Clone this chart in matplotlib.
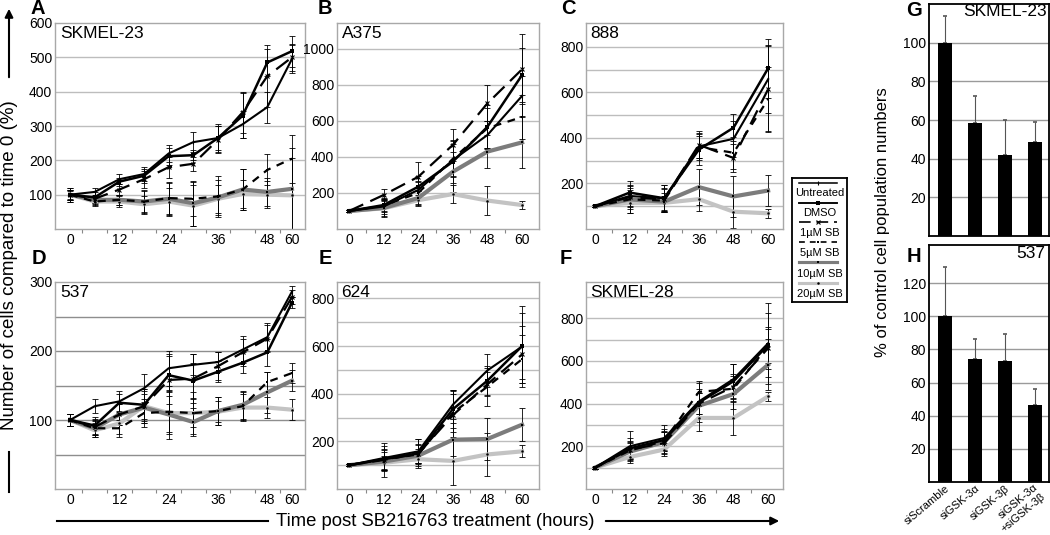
import numpy as np
import matplotlib
matplotlib.use('Agg')
import matplotlib.pyplot as plt
import matplotlib.transforms as mtrans

plt.rcParams['font.family'] = ['Liberation Sans', 'DejaVu Sans']

W, H = 1050, 535

# time points (hours) - A and D have 6 h steps, the rest 12 h
times_fine = [0, 6, 12, 18, 24, 30, 36, 42, 48, 60]
times_coarse = [0, 12, 24, 36, 48, 60]
series_names = ['Untreated', 'DMSO', '1µM SB', '5µM SB', '10µM SB', '20µM SB']

# A - SKMEL-23 (order: untreated, DMSO, 1, 5, 10, 20 µM)
skmel23_mean = [
    [100, 108, 145, 160, 220, 253, 265, 305, 355, 495],
    [100, 92, 138, 155, 212, 215, 265, 330, 485, 518],
    [100, 88, 115, 145, 180, 190, 260, 340, 445, 500],
    [100, 80, 85, 80, 90, 88, 95, 115, 172, 205],
    [100, 85, 85, 80, 88, 75, 92, 115, 108, 117],
    [100, 80, 80, 72, 80, 68, 88, 102, 100, 98],
]
skmel23_err = [
    [15, 12, 15, 20, 25, 30, 40, 40, 45, 40],
    [12, 15, 12, 20, 25, 15, 35, 65, 40, 45],
    [15, 12, 15, 25, 30, 20, 40, 60, 90, 40],
    [20, 12, 15, 30, 45, 50, 60, 60, 45, 70],
    [20, 12, 15, 35, 50, 65, 50, 60, 40, 120],
    [15, 10, 15, 25, 40, 60, 40, 40, 40, 110],
]

# B - A375
a375_mean = [
    [100, 125, 217, 383, 522, 739],
    [100, 133, 235, 374, 568, 855],
    [100, 189, 290, 467, 698, 887],
    [100, 130, 200, 390, 560, 622],
    [100, 117, 172, 318, 430, 481],
    [100, 115, 160, 194, 158, 133],
]
a375_err = [
    [5, 40, 50, 90, 80, 110],
    [5, 40, 60, 120, 120, 150],
    [5, 35, 80, 90, 100, 195],
    [5, 30, 60, 100, 110, 120],
    [5, 45, 40, 110, 90, 140],
    [5, 50, 30, 50, 80, 20],
]

# C - 888
m888_mean = [
    [100, 145, 135, 363, 396, 658],
    [100, 160, 135, 349, 445, 706],
    [100, 140, 130, 370, 312, 614],
    [100, 130, 125, 360, 335, 570],
    [100, 130, 120, 184, 143, 169],
    [100, 115, 115, 131, 76, 69],
]
m888_err = [
    [5, 50, 60, 60, 80, 150],
    [5, 50, 60, 70, 60, 130],
    [5, 40, 50, 60, 60, 190],
    [5, 60, 50, 50, 70, 140],
    [5, 40, 40, 80, 90, 70],
    [5, 45, 30, 50, 70, 20],
]

# D - 537
m537_mean = [
    [100, 120, 127, 146, 175, 180, 184, 202, 220, 286],
    [100, 92, 125, 122, 165, 157, 170, 183, 198, 270],
    [100, 90, 108, 120, 158, 160, 178, 198, 218, 278],
    [100, 88, 88, 110, 112, 110, 113, 120, 155, 168],
    [100, 88, 108, 118, 108, 97, 113, 122, 140, 157],
    [100, 85, 95, 120, 110, 110, 112, 118, 118, 115],
]
m537_err = [
    [8, 10, 15, 20, 25, 15, 15, 20, 20, 8],
    [8, 12, 12, 20, 30, 25, 15, 15, 20, 8],
    [8, 12, 15, 25, 35, 35, 20, 20, 20, 10],
    [8, 10, 12, 20, 30, 30, 20, 20, 15, 15],
    [8, 12, 15, 20, 35, 20, 20, 20, 30, 15],
    [8, 10, 15, 25, 30, 20, 15, 20, 15, 15],
]

# E - 624
m624_mean = [
    [100, 130, 158, 354, 498, 598],
    [100, 125, 150, 335, 455, 600],
    [100, 122, 148, 310, 440, 565],
    [100, 125, 145, 320, 430, 545],
    [100, 115, 140, 207, 210, 270],
    [100, 110, 125, 118, 145, 158],
]
m624_err = [
    [5, 50, 50, 60, 70, 170],
    [5, 45, 60, 80, 60, 140],
    [5, 70, 40, 100, 50, 120],
    [5, 40, 40, 80, 80, 100],
    [5, 40, 30, 70, 90, 70],
    [5, 30, 30, 100, 90, 25],
]

# F - SKMEL-28
skmel28_mean = [
    [100, 200, 239, 410, 515, 683],
    [100, 190, 230, 405, 505, 675],
    [100, 185, 215, 400, 480, 660],
    [100, 180, 225, 455, 470, 670],
    [100, 175, 220, 390, 445, 582],
    [100, 150, 185, 333, 333, 434],
]
skmel28_err = [
    [5, 70, 60, 60, 70, 190],
    [5, 50, 50, 90, 80, 150],
    [5, 40, 50, 50, 60, 100],
    [5, 40, 40, 50, 60, 80],
    [5, 40, 50, 60, 70, 120],
    [5, 30, 30, 60, 80, 20],
]

# G / H - siRNA knockdown
bar_labels = ['siScramble', 'siGSK-3α', 'siGSK-3β', 'siGSK-3α\n+siGSK-3β']
skmel23_si = [100, 58.5, 42, 48.5]
skmel23_si_err = [14, 14, 18, 10.5]
m537_si = [100, 74, 73, 46.5]
m537_si_err = [30, 12, 16, 9.5]

STYLES = [
    dict(color='black', ls='-', lw=1.5, marker='|', ms=3, mew=0.8),
    dict(color='black', ls='-', lw=1.8, marker='s', ms=2.5, mew=0),
    dict(color='black', ls=(0, (7, 3.5)), lw=1.6, marker='x', ms=3, mew=0.8),
    dict(color='black', ls=(0, (3.5, 3)), lw=1.6, marker='s', ms=2, mew=0),
    dict(color='#7c7c7c', ls='-', lw=3.0, marker='s', ms=2, mew=0, mfc='black'),
    dict(color='#c3c3c3', ls='-', lw=3.0, marker='o', ms=1.8, mew=0, mfc='black'),
]

TICK_FS = 10


def px_axes(fig, l, t, r, b):
    return fig.add_axes([l / W, 1 - b / H, (r - l) / W, (b - t) / H])


def fig_text(fig, x, y, s, **kw):
    fig.text(x / W, 1 - y / H, s, **kw)


def line_panel(fig, box, xlim, ylim, times, means, errs, grid_vals, label_vals,
               title, title_xy, letter, letter_xy, grid_color='#bdbdbd'):
    ax = px_axes(fig, *box)
    x = np.arange(len(times))
    for g in grid_vals:
        ax.axhline(g, color=grid_color, lw=1.0, zorder=0)
    # gray lines first, black ones on top
    for i in [5, 4, 3, 2, 1, 0]:
        st = STYLES[i]
        ax.errorbar(x, means[i], yerr=errs[i], fmt='none', ecolor='black',
                    elinewidth=0.6, capsize=2.5, capthick=0.6, zorder=2)
        ax.plot(x, means[i], color=st['color'], ls=st['ls'], lw=st['lw'],
                marker=st['marker'], ms=st['ms'], mew=st['mew'],
                mfc=st.get('mfc', 'black'), mec='black', zorder=3 + (5 - i) * 0.1)
    ax.set_xlim(*xlim)
    ax.set_ylim(*ylim)
    lab_idx = [k for k, t in enumerate(times) if t % 12 == 0]
    ax.set_xticks(lab_idx)
    ax.set_xticklabels([str(times[k]) for k in lab_idx], fontsize=TICK_FS)
    ax.set_xticks(np.arange(len(times) - 1) + 0.5, minor=True)
    ax.tick_params(axis='x', which='major', length=0, pad=3)
    ax.tick_params(axis='x', which='minor', length=3, color='#888888', width=0.8)
    ax.set_yticks(label_vals)
    ax.set_yticklabels([str(v) for v in label_vals], fontsize=TICK_FS)
    ax.tick_params(axis='y', length=0, pad=2)
    for sp in ax.spines.values():
        sp.set_color('#a8a8a8')
        sp.set_linewidth(1.0)
    fig_text(fig, title_xy[0], title_xy[1], title, fontsize=12.5, ha='left', va='top')
    fig_text(fig, letter_xy[0], letter_xy[1], letter, fontsize=14.5,
             fontweight='bold', ha='center', va='center')
    return ax


def bar_panel(fig, box, vals, errs, ylim, top_tick, title, title_xy, letter,
              letter_xy, show_labels):
    ax = px_axes(fig, *box)
    x = np.arange(len(vals))
    ticks = list(range(20, top_tick + 1, 20))
    for g in ticks:
        ax.axhline(g, color='#9a9a9a', lw=1.0, zorder=0)
    ax.bar(x, vals, width=0.45, color='black', zorder=2)
    ax.errorbar(x, vals, yerr=[np.zeros(len(errs)), errs], fmt='none',
                ecolor='#555555', elinewidth=0.8, capsize=1.2, capthick=1.2, zorder=1)
    ax.set_xlim(-0.53, 3.47)
    ax.set_ylim(*ylim)
    ax.set_yticks(ticks)
    ax.set_yticklabels([str(v) for v in ticks], fontsize=TICK_FS)
    ax.tick_params(axis='y', length=0, pad=2)
    ax.set_xticks(x)
    if show_labels:
        ax.set_xticklabels(bar_labels, fontsize=8, rotation=40, ha='right',
                           va='top', rotation_mode='anchor', multialignment='right')
        ax.tick_params(axis='x', length=0, pad=1)
        # two-line label would run off the figure, nudge it a little
        last = ax.get_xticklabels()[-1]
        last.set_transform(last.get_transform() +
                           mtrans.ScaledTranslation(-2 / 100, 1 / 100, fig.dpi_scale_trans))
    else:
        ax.set_xticklabels([])
        ax.tick_params(axis='x', length=0)
    for sp in ax.spines.values():
        sp.set_color('black')
        sp.set_linewidth(1.3)
    fig_text(fig, title_xy[0], title_xy[1], title, fontsize=12.5, ha='right', va='top')
    fig_text(fig, letter_xy[0], letter_xy[1], letter, fontsize=14.5,
             fontweight='bold', ha='center', va='center')
    return ax


fig = plt.figure(figsize=(W / 100, H / 100), dpi=100)

line_panel(fig, (55, 23, 305, 229), (-0.61, 9.53), (0, 600), times_fine,
           skmel23_mean, skmel23_err, range(100, 600, 100), range(100, 601, 100),
           'SKMEL-23', (60, 26), 'A', (38, 9))
line_panel(fig, (337, 23, 539, 229), (-0.35, 5.49), (0, 1144), times_coarse,
           a375_mean, a375_err, range(200, 1001, 200), range(200, 1001, 200),
           'A375', (342, 26), 'B', (325, 9))
line_panel(fig, (586, 23, 783, 229), (-0.26, 5.43), (0, 905), times_coarse,
           m888_mean, m888_err, range(100, 801, 100), range(200, 801, 200),
           '888', (590, 26), 'C', (568, 9))
line_panel(fig, (55, 282, 305, 489), (-0.61, 9.53), (0, 300), times_fine,
           m537_mean, m537_err, range(50, 300, 50), range(100, 301, 100),
           '537', (60, 285), 'D', (39, 259), grid_color='#8e8e8e')
line_panel(fig, (337, 282, 539, 489), (-0.35, 5.49), (0, 869), times_coarse,
           m624_mean, m624_err, range(100, 801, 100), range(200, 801, 200),
           '624', (341, 285), 'E', (325, 259))
line_panel(fig, (586, 282, 783, 489), (-0.26, 5.43), (0, 970), times_coarse,
           skmel28_mean, skmel28_err, range(100, 901, 100), range(200, 801, 200),
           'SKMEL-28', (590, 285), 'F', (566, 259))

bar_panel(fig, (929, 4, 1049, 236), skmel23_si, skmel23_si_err, (0, 120), 100,
          'SKMEL-23', (1047, 4), 'G', (914, 10), False)
bar_panel(fig, (929, 245, 1049, 482), m537_si, m537_si_err, (0, 143), 120,
          '537', (1045, 246), 'H', (914, 256), True)

# legend box drawn by hand
lg = px_axes(fig, 792, 178, 847, 302)
lg.set_xlim(0, 55)
lg.set_ylim(124, 0)
lg.set_xticks([])
lg.set_yticks([])
for sp in lg.spines.values():
    sp.set_color('black')
    sp.set_linewidth(1.3)
line_y = [5, 25, 44, 64, 84, 105]
text_y = [15, 35, 55, 75, 96, 116]
for i, name in enumerate(series_names):
    st = STYLES[i]
    lg.plot([7, 45], [line_y[i], line_y[i]], color=st['color'], ls=st['ls'],
            lw=st['lw'] * 0.75)
    lg.plot([26], [line_y[i]], marker=st['marker'], ms=st['ms'], mew=st['mew'],
            color='black', ls='none')
    lg.text(27.5, text_y[i], name, fontsize=8, ha='center', va='center')

# big axis labels with arrows
fig_text(fig, 10, 265, 'Number of cells compared to time 0 (%)', rotation=90,
         fontsize=13.5, ha='center', va='center')
fig.add_artist(plt.Line2D([9 / W, 9 / W], [1 - 492 / H, 1 - 452 / H],
                          color='black', lw=1.5))
fig.add_artist(matplotlib.patches.FancyArrowPatch(
    (9 / W, 1 - 80 / H), (9 / W, 1 - 6 / H), transform=fig.transFigure,
    arrowstyle='-|>', mutation_scale=12, color='black', lw=1.5))

fig_text(fig, 435, 521, 'Time post SB216763 treatment (hours)', fontsize=13.3,
         ha='center', va='center')
fig.add_artist(plt.Line2D([57 / W, 268 / W], [1 - 521 / H, 1 - 521 / H],
                          color='black', lw=1.5))
fig.add_artist(matplotlib.patches.FancyArrowPatch(
    (603 / W, 1 - 521 / H), (782 / W, 1 - 521 / H), transform=fig.transFigure,
    arrowstyle='-|>', mutation_scale=12, color='black', lw=1.5))

fig_text(fig, 882, 222, '% of control cell population numbers', rotation=90,
         fontsize=12, ha='center', va='center')

fig.savefig('out.png', dpi=100)
